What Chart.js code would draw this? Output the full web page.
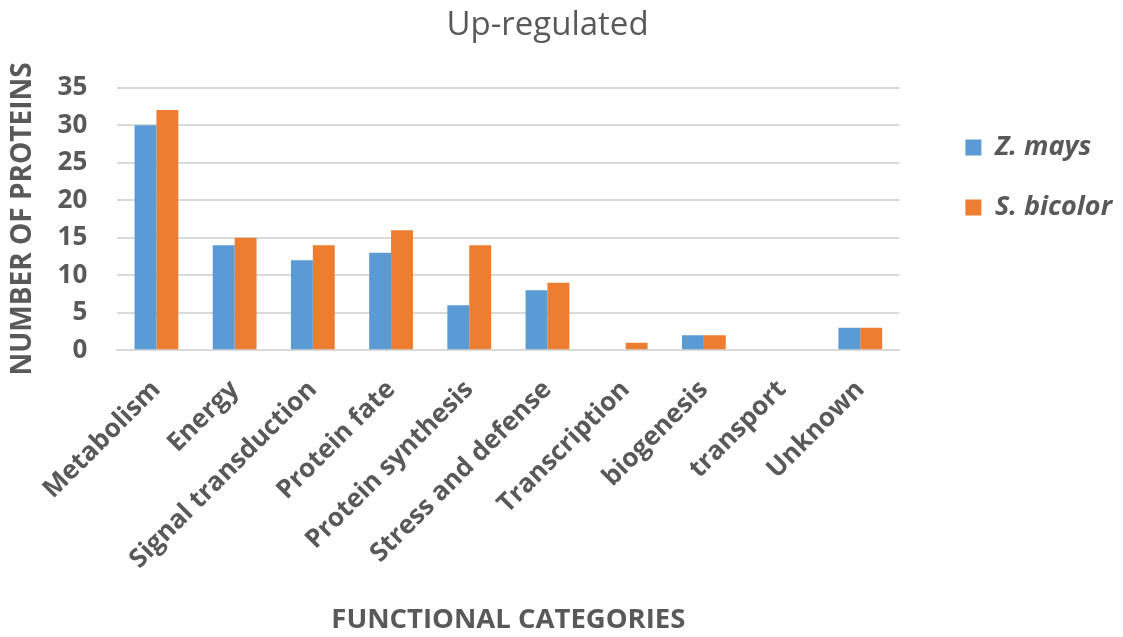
<!DOCTYPE html>
<html>
<head>
<meta charset="utf-8">
<script src="https://cdn.jsdelivr.net/npm/chart.js@4"></script>
<style>
  html, body { margin: 0; padding: 0; background: #fff; }
  #wrap { width: 1123px; height: 637px; }
</style>
</head>
<body>
<div id="wrap"><canvas id="c" width="1123" height="637"></canvas></div>
<script>
const categories = ["Metabolism", "Energy", "Signal transduction", "Protein fate", "Protein synthesis", "Stress and defense", "Transcription", "biogenesis", "transport", "Unknown"];
const zMays = [30, 14, 12, 13, 6, 8, 0, 2, 0, 3];
const sBicolor = [32, 15, 14, 16, 14, 9, 1, 2, 0, 3];
const yTicks = [0, 5, 10, 15, 20, 25, 30, 35];

const FONT = "'Open Sans', 'DejaVu Sans', sans-serif";
const GREY = "#595959";

// move the legend a little away from the plot area (keeps its own size)
const legendGap = {
  id: "legendGap",
  afterLayout(chart) {
    const lg = chart.legend;
    if (!lg) return;
    const w = lg.width;
    lg.left = chart.chartArea.right + 33;
    lg.right = lg.left + w;
  }
};

new Chart(document.getElementById("c"), {
  type: "bar",
  data: {
    labels: categories,
    datasets: [
      { label: "Z. mays", data: zMays, backgroundColor: "#5B9BD5", borderColor: "#ffffff", borderWidth: 0 },
      { label: "S. bicolor", data: sBicolor, backgroundColor: "#ED7D31", borderColor: "#ffffff", borderWidth: 0 }
    ]
  },
  plugins: [legendGap],
  options: {
    responsive: false,
    animation: false,
    layout: { padding: { left: 6, right: 34, top: 6, bottom: 0 } },
    datasets: { bar: { categoryPercentage: 0.56, barPercentage: 1.0 } },
    plugins: {
      title: {
        display: true,
        text: "Up-regulated",
        color: GREY,
        font: { family: FONT, size: 33, weight: "normal" },
        padding: { top: 0, bottom: 42 }
      },
      legend: {
        position: "right",
        align: "start",
        title: { display: true, text: " ", padding: { top: 83, bottom: 0 }, font: { size: 10 } },
        labels: {
          color: GREY,
          font: { family: FONT, size: 27, weight: "bold", style: "italic" },
          boxWidth: 16,
          boxHeight: 16,
          padding: 33
        }
      },
      tooltip: { enabled: false }
    },
    scales: {
      x: {
        grid: { display: false, drawTicks: false },
        border: { display: true, color: "#D9D9D9", width: 2 },
        afterFit: (scale) => { scale.paddingLeft = 0; },
        ticks: {
          color: GREY,
          font: { family: FONT, size: 26, weight: "bold" },
          maxRotation: 45,
          minRotation: 45,
          autoSkip: false,
          padding: 24
        },
        title: {
          display: true,
          text: "FUNCTIONAL CATEGORIES",
          color: GREY,
          font: { family: FONT, size: 27.5, weight: "bold" },
          padding: { top: 5, bottom: 0 }
        }
      },
      y: {
        min: 0,
        max: 35,
        afterBuildTicks: (axis) => { axis.ticks = yTicks.map(v => ({ value: v })); },
        grid: { color: "#D9D9D9", lineWidth: 2, drawTicks: false },
        border: { display: false },
        ticks: {
          color: GREY,
          font: { family: FONT, size: 26, weight: "bold" },
          padding: 30
        },
        title: {
          display: true,
          text: "NUMBER OF PROTEINS",
          color: GREY,
          font: { family: FONT, size: 28, weight: "bold" },
          padding: { top: 0, bottom: -12 }
        }
      }
    }
  }
});
</script>
</body>
</html>
